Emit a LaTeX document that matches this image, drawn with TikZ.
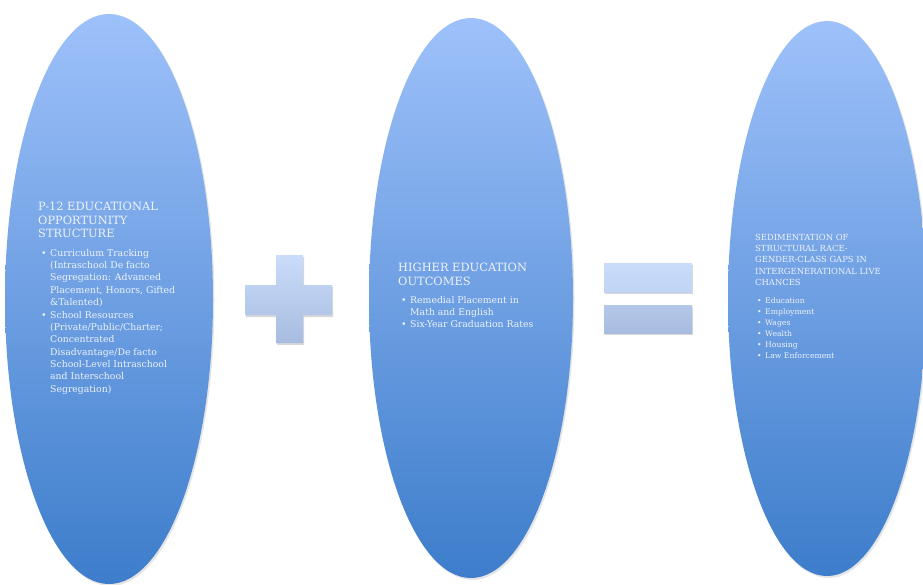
\documentclass[tikz,border=0pt]{standalone}
\usepackage{fontspec}
\setmainfont{DejaVu Serif}
\usetikzlibrary{shapes.geometric,shadows}
\definecolor{elltop}{HTML}{9EC1FA}
\definecolor{ellbot}{HTML}{3D7DCB}
\definecolor{txt}{HTML}{EEF3FB}
\definecolor{plustop}{HTML}{C9DCFA}
\definecolor{plusbot}{HTML}{A8BCE0}
\newcommand{\bl}{\hspace*{3pt}\makebox[9pt][l]{\textbullet}}
\newcommand{\ind}{\hspace*{12pt}}
\newcommand{\blS}{\hspace*{2pt}\makebox[8pt][l]{\textbullet}}
\begin{document}
\begin{tikzpicture}[x=1pt,y=-1pt,
  oval/.style={ellipse,inner sep=0pt,top color=elltop,bottom color=ellbot,
    drop shadow={shadow xshift=1.5pt,shadow yshift=-2pt,opacity=0.2}},
  bar/.style={inner sep=0pt,top color=plustop,bottom color=plusbot,
    drop shadow={shadow xshift=1pt,shadow yshift=-2pt,opacity=0.3}},
  headtxt/.style={anchor=north west,align=left,text=txt,inner sep=0pt},
]
\useasboundingbox (0,0) rectangle (923,584);
\fill[white] (0,0) rectangle (923,584);
% ellipses
\node[oval,minimum width=208pt,minimum height=570pt] (e1) at (109,299) {};
\node[oval,minimum width=204pt,minimum height=560pt] (e2) at (471,298) {};
\node[oval,minimum width=198pt,minimum height=555pt] (e3) at (827,298.5) {};
% plus sign
\path[top color=plustop,bottom color=plusbot,
      drop shadow={shadow xshift=1pt,shadow yshift=-2pt,opacity=0.3}]
  (276,255) -- (303,255) -- (303,285) -- (332,285) -- (332,315) -- (303,315)
  -- (303,343) -- (276,343) -- (276,315) -- (245,315) -- (245,285) -- (276,285) -- cycle;
% equals sign
\node[bar,minimum width=88pt,minimum height=29pt,top color=plustop,bottom color=plustop!75!plusbot] (eqa) at (648,277.5) {};
\node[bar,minimum width=88pt,minimum height=28pt,top color=plustop!35!plusbot,bottom color=plusbot] (eqb) at (648,319) {};
% texts ellipse 1
\node[headtxt,font=\fontsize{11.4}{13.6}\selectfont] (t1) at (38,202)
  {P-12 EDUCATIONAL\\OPPORTUNITY\\STRUCTURE};
\node[headtxt,font=\fontsize{9.3}{12.35}\selectfont] (b1) at (38,249)
  {\bl Curriculum Tracking\\\ind(Intraschool De facto\\\ind Segregation: Advanced\\\ind Placement, Honors, Gifted\\\ind\&Talented)\\
   \bl School Resources\\\ind(Private/Public/Charter;\\\ind Concentrated\\\ind Disadvantage/De facto\\\ind School-Level Intraschool\\\ind and Interschool\\\ind Segregation)};
% texts ellipse 2
\node[headtxt,font=\fontsize{11.4}{13.6}\selectfont] (t2) at (398,263)
  {HIGHER EDUCATION\\OUTCOMES};
\node[headtxt,font=\fontsize{9.3}{12.35}\selectfont] (b2) at (398,296)
  {\bl Remedial Placement in\\\ind Math and English\\\bl Six-Year Graduation Rates};
% texts ellipse 3
\node[headtxt,font=\fontsize{8.4}{11.2}\selectfont] (t3) at (755,234)
  {SEDIMENTATION OF\\STRUCTURAL RACE-\\GENDER-CLASS GAPS IN\\INTERGENERATIONAL LIVE\\CHANCES};
\node[headtxt,font=\fontsize{7.7}{11}\selectfont] (b3) at (755,297.5)
  {\blS Education\\\blS Employment\\\blS Wages\\\blS Wealth\\\blS Housing\\\blS Law Enforcement};
\end{tikzpicture}
\end{document}
